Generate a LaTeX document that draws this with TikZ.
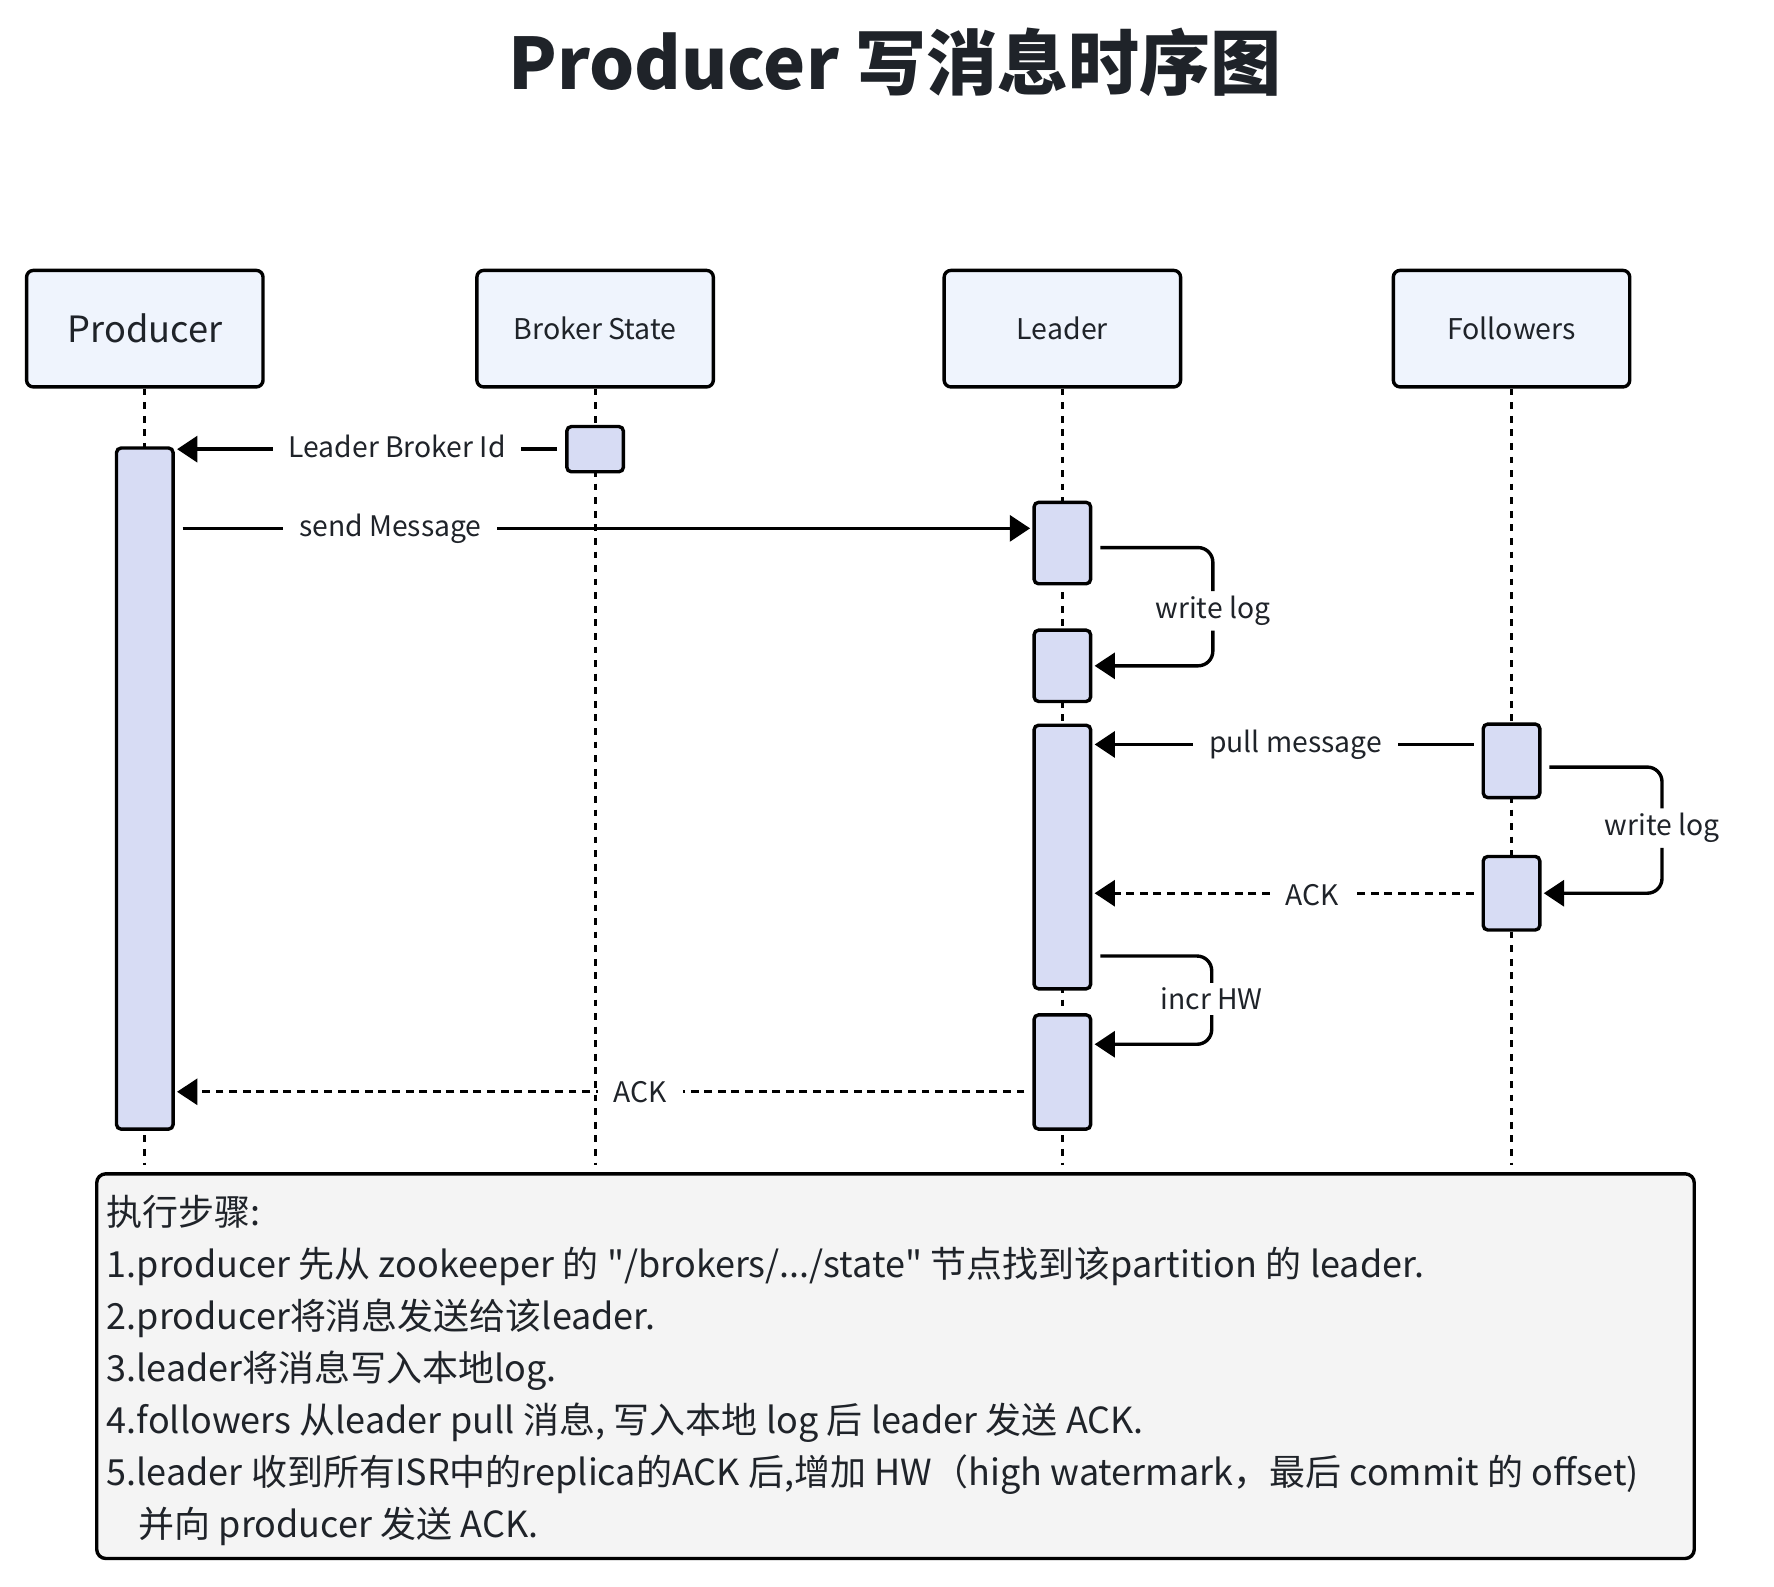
\documentclass[tikz,border=0pt]{standalone}
\usepackage{fontspec}
\setmainfont{Noto Sans CJK SC}
\newfontfamily\notefont{Noto Sans CJK SC}[WordSpace=1.05,Ligatures=TeXOff]
\usepackage{xcolor}
\usetikzlibrary{arrows.meta, calc}
\definecolor{ink}{HTML}{1F2329}
\definecolor{headfill}{HTML}{EFF4FD}
\definecolor{actfill}{HTML}{D7DCF4}
\definecolor{notefill}{HTML}{F4F4F4}

\begin{document}
\begin{tikzpicture}[
x=0.5pt,y=-0.5pt,
head/.style={
    rectangle,minimum width=104.5pt,minimum height=51.5pt,rounded corners=3pt,line width=1.5pt,draw=black,fill=headfill,text=ink,font=\fontsize{12.6pt}{15pt}\selectfont
},
act/.style={
    rectangle,minimum width=25pt,rounded corners=2pt,line width=1.5pt,draw=black,fill=actfill,inner sep=0pt
},
life/.style={line width=1.3pt,dash pattern=on 3pt off 3pt},
msg/.style={-{Triangle[length=9pt,width=11.5pt]},line width=1.5pt,shorten <=3.5pt,shorten >=1pt},
reply/.style={msg,dash pattern=on 3.5pt off 2.5pt},
loop/.style={msg,shorten <=0pt,rounded corners=6.5pt},
lbl/.style={fill=white,text=ink,inner xsep=7pt,inner ysep=2pt,font=\fontsize{12.5pt}{15pt}\selectfont},
note/.style={
    rectangle,minimum width=706pt,minimum height=170pt,rounded corners=4pt,line width=1.5pt,draw=black,fill=notefill
},
notetext/.style={
    inner sep=0pt,align=left,text=ink,font=\notefont\fontsize{15.9pt}{23pt}\selectfont
}
]
    \useasboundingbox (0,0) rectangle (1568,1402);
    \node(T0)[text=ink,font=\bfseries\fontsize{31.4pt}{36pt}\selectfont] at (791,55){Producer 写消息时序图};

    % lifeline heads
    \node(H1)[head,font=\fontsize{16pt}{19pt}\selectfont] at (128,290.5){Producer};
    \node(H2)[head] at (526,290.5){Broker State};
    \node(H3)[head] at (939,290.5){Leader};
    \node(H4)[head] at (1336,290.5){Followers};

    \coordinate (E1) at (0,1030);
    \draw[life] (H1.south) -- (H1.south |- E1);
    \draw[life] (H2.south) -- (H2.south |- E1);
    \draw[life] (H3.south) -- (H3.south |- E1);
    \draw[life] (H4.south) -- (H4.south |- E1);

    % activations
    \node(P1)[act,minimum height=301pt] at (128,697){};
    \node(B1)[act,minimum height=20pt] at (526,397){};
    \node(L1)[act,minimum height=36pt] at (939,480){};
    \node(L2)[act,minimum height=31.5pt] at (939,588.5){};
    \node(L3)[act,minimum height=116.5pt] at (939,757.5){};
    \node(L4)[act,minimum height=50.5pt] at (939,947.5){};
    \node(F1)[act,minimum height=32.5pt] at (1336,672.5){};
    \node(F2)[act,minimum height=32.5pt] at (1336,789.5){};

    % messages
    \coordinate (Y1) at (0,467);
    \coordinate (Y2) at (7,484);
    \coordinate (Y3) at (0,658);
    \coordinate (Y4) at (7,678);
    \coordinate (Y5) at (7,845);
    \coordinate (Y6) at (0,923);
    \coordinate (Y7) at (0,965);

    \draw[msg] (B1.west) -- (B1.west -| P1.east);
    \draw[msg] (P1.east |- Y1) -- (L1.west |- Y1);
    \draw[msg] (F1.west |- Y3) -- (L3.east |- Y3);
    \draw[reply] (F2.west) -- (F2.west -| L3.east);
    \draw[reply] (L4.west |- Y7) -- (P1.east |- Y7);

    \node(M1)[lbl] at (351,395){Leader Broker Id};
    \node(M2)[lbl] at (345,467){send Message};
    \node(M3)[lbl] at (1072,540){write log};
    \node(M4)[lbl] at (1145,658){pull message};
    \node(M5)[lbl] at (1469,732){write log};
    \node(M6)[lbl] at (1160,791){ACK};
    \node(M7)[lbl] at (1071,883){incr HW};
    \node(M8)[lbl] at (566,965){ACK};

    \draw[loop] ($(L1.east |- Y2)+(7,0)$) -| (M3) |- (L2.east);
    \draw[loop] ($(F1.east |- Y4)+(7,0)$) -| (M5) |- (F2.east);
    \draw[loop] ($(L3.east |- Y5)+(7,0)$) -| (M7) |- (L4.east |- Y6);

    % steps
    \node(N1)[note,anchor=north west] at (84,1036){};
    \node(N2)[notetext,anchor=north west] at ($(N1.north west)+(10,20)$){执行步骤:\\
1.producer 先从 zookeeper 的 "/brokers/.../state" 节点找到该partition 的 leader.\\
2.producer将消息发送给该leader.\\
3.leader将消息写入本地log.\\
4.followers 从leader pull 消息, 写入本地 log 后 leader 发送 ACK.\\
5.leader 收到所有ISR中的replica的ACK 后,增加 HW（high watermark，最后 commit 的 offset)\\
\hspace*{14pt}并向 producer 发送 ACK.};
\end{tikzpicture}
\end{document}
